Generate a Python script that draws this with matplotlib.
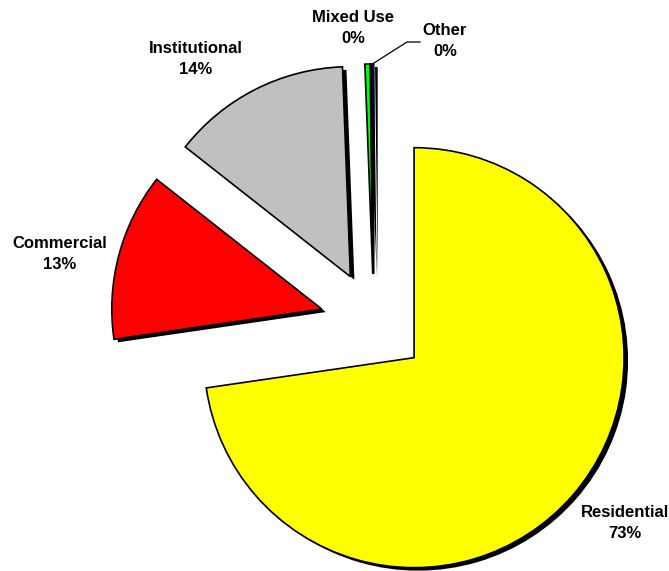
import numpy as np
import matplotlib.pyplot as plt

# land use shares (%)
categories = ['Residential', 'Commercial', 'Institutional', 'Mixed Use', 'Other']
shares = [72.7, 12.9, 13.8, 0.4, 0.2]
colors = ['#FFFF00', '#FF0000', '#C0C0C0', '#00FF00', '#000080']

# label anchor points (pixels, y up)
label_xy = [(625, 48), (60, 317), (196, 512), (353, 543), (445, 530)]

W, H = 669, 571
fig = plt.figure(figsize=(W / 100, H / 100), dpi=100)
ax = fig.add_axes([0, 0, 1, 1])

center = (374, 248)
radius = 210
# pie explode is in data units, so pull every slice out by ~50 px
explode = [53, 54, 52, 49, 49]

# flat black drop shadow under every slice
ax.pie(shares, explode=explode, colors=['black'] * len(shares),
       startangle=90, counterclock=False, radius=radius,
       center=(center[0] + 4, center[1] - 3),
       wedgeprops=dict(linewidth=0))

wedges, _ = ax.pie(shares, explode=explode, colors=colors,
                   startangle=90, counterclock=False, radius=radius,
                   center=center,
                   wedgeprops=dict(edgecolor='black', linewidth=1.2))

ax.set_xlim(0, W)
ax.set_ylim(0, H)
ax.set_aspect('equal')
ax.axis('off')

for name, val, (x, y) in zip(categories, shares, label_xy):
    ax.text(x, y, '%s\n%d%%' % (name, round(val)), ha='center', va='center',
            fontsize=12, fontweight='bold', family='Liberation Sans',
            linespacing=1.55)

# leader line from the "Other" slice to its label
w = wedges[-1]
mid = np.deg2rad((w.theta1 + w.theta2) / 2)
px = w.center[0] + w.r * np.cos(mid)
py = w.center[1] + w.r * np.sin(mid)
ax.plot([px, 407, 420], [py, 529, 529], color='black', lw=0.9)

fig.savefig('out.png', dpi=100)
